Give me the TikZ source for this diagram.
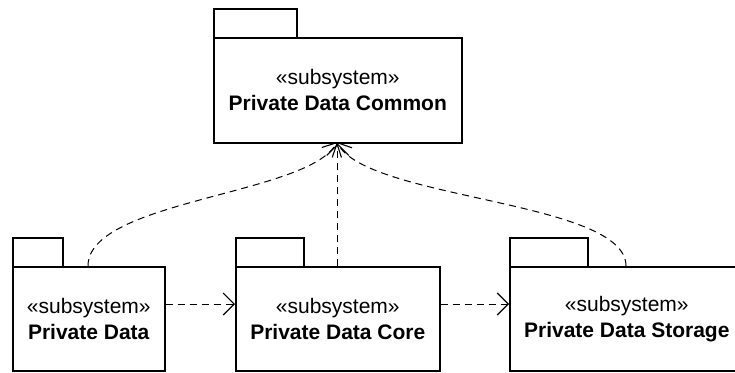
\documentclass[tikz,border=0pt]{standalone}
\usepackage{fontspec}
\setmainfont{Liberation Sans}
\usetikzlibrary{arrows.meta}
\tikzset{
  pkgbody/.style={draw, line width=1.6pt, rectangle, inner sep=0pt, align=center,
    font=\fontsize{21}{26}\selectfont},
  pkgtab/.style={draw, line width=1.6pt, rectangle, inner sep=0pt},
  dep/.style={dashed, dash pattern=on 7pt off 5pt, line width=1pt,
    -{Straight Barb[length=11pt, width=22pt, line width=1.1pt]}},
}
\begin{document}
\begin{tikzpicture}[x=1pt, y=-1pt]
\useasboundingbox (0,0) rectangle (735,372);
% Private Data Common
\node[pkgtab, minimum width=83pt, minimum height=29pt, anchor=north west] (ctab) at (213,8) {};
\node[pkgbody, minimum width=248pt, minimum height=105pt, anchor=north west] (common) at (213,37)
  {«subsystem»\\\textbf{Private Data Common}};
% Private Data
\node[pkgtab, minimum width=50pt, minimum height=29pt, anchor=north west] (ptab) at (12,237) {};
\node[pkgbody, minimum width=152pt, minimum height=104pt, anchor=north west] (pd) at (12,266)
  {«subsystem»\\\textbf{Private Data}};
% Private Data Core
\node[pkgtab, minimum width=68pt, minimum height=29pt, anchor=north west] (ctab2) at (235,237) {};
\node[pkgbody, minimum width=204pt, minimum height=104pt, anchor=north west] (core) at (235,266)
  {«subsystem»\\\textbf{Private Data Core}};
% Private Data Storage
\node[pkgtab, minimum width=78pt, minimum height=29pt, anchor=north west] (stab) at (509,237) {};
\node[pkgbody, minimum width=234pt, minimum height=104pt, anchor=north west] (storage) at (509,266)
  {«subsystem»\\\textbf{Private Data Storage}};
% connector ends
\coordinate (tgt) at (337,142);
\coordinate (pdtop) at (88,266);
\coordinate (sttop) at (626,266);
% dependencies
\draw[dep] (pd.east |- 0,304) -- (core.west |- 0,304);
\draw[dep] (core.east |- 0,304) -- (storage.west |- 0,304);
\draw[dep] (core.north) -- (common.south);
\draw[dep] (pdtop) .. controls (88,200) and (310,195) .. (tgt);
\draw[dep] (sttop) .. controls (626,200) and (365,200) .. (tgt);
\end{tikzpicture}
\end{document}
